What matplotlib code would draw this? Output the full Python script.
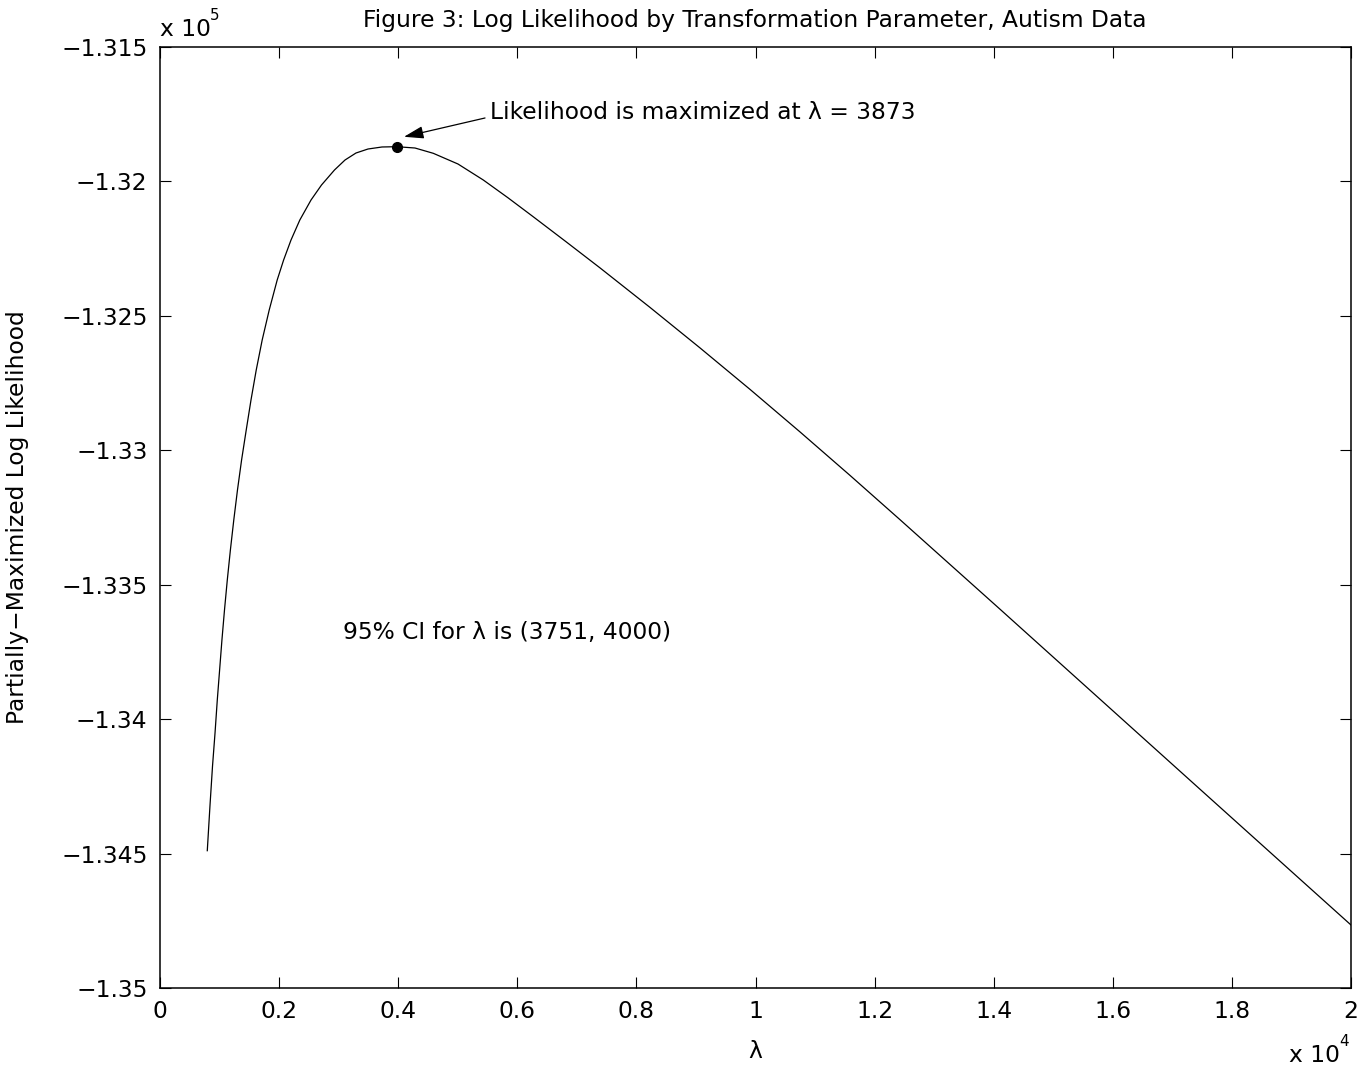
import matplotlib
matplotlib.use("Agg")
import matplotlib.pyplot as plt

plt.rcParams['font.family'] = ['DejaVu Sans']
plt.rcParams['axes.unicode_minus'] = True

# lambda values and partially-maximized log likelihood (units of 1e5)
lam = [794, 840, 882, 924, 962, 1001, 1040, 1083, 1130, 1182, 1239, 1301,
       1370, 1448, 1528, 1616, 1716, 1834, 1968, 2076, 2200, 2348, 2536, 2712,
       2930, 3107, 3291, 3493, 3728, 3975, 4282, 4589, 5004, 5429, 5844, 6269,
       6818, 7389, 8228, 9068, 9908, 10747, 11587, 12427, 14106, 15785, 17464,
       19144, 20000]
loglik = [-1.344893, -1.343193, -1.341743, -1.340515, -1.339288, -1.338172,
          -1.337056, -1.335940, -1.334825, -1.333709, -1.332593, -1.331477,
          -1.330361, -1.329245, -1.328130, -1.327014, -1.325898, -1.324782,
          -1.323666, -1.322922, -1.322179, -1.321435, -1.320691, -1.320133,
          -1.319575, -1.319203, -1.318943, -1.318794, -1.318719, -1.318708,
          -1.318757, -1.318954, -1.319352, -1.319947, -1.320609, -1.321316,
          -1.322242, -1.323216, -1.324685, -1.326192, -1.327735, -1.329316,
          -1.330934, -1.332582, -1.335911, -1.339258, -1.342606, -1.345953,
          -1.347657]
max_lam = 3975
max_val = -1.318708

xticks = [0, 2000, 4000, 6000, 8000, 10000, 12000, 14000, 16000, 18000, 20000]
xticklabels = ['0', '0.2', '0.4', '0.6', '0.8', '1', '1.2', '1.4', '1.6', '1.8', '2']
yticks = [-1.35, -1.345, -1.34, -1.335, -1.33, -1.325, -1.32, -1.315]
yticklabels = ['\u22121.35', '\u22121.345', '\u22121.34', '\u22121.335', '\u22121.33',
               '\u22121.325', '\u22121.32', '\u22121.315']

FS = 16.8
fig = plt.figure(figsize=(13.68, 10.79), dpi=100)
ax = fig.add_axes([160/1368, 1 - 988/1079, (1351-160)/1368, (988-47)/1079])

ax.plot(lam, loglik, color='black', lw=0.9)
ax.plot([max_lam], [max_val], 'o', color='black', ms=7)

ax.set_xlim(0, 20000)
ax.set_ylim(-1.35, -1.315)
ax.set_xticks(xticks)
ax.set_xticklabels(xticklabels, fontsize=FS)
ax.set_yticks(yticks)
ax.set_yticklabels(yticklabels, fontsize=FS)
ax.tick_params(direction='in', length=8, width=0.8, top=True, right=True, pad=9)
for s in ax.spines.values():
    s.set_linewidth(1.1)

ax.annotate('', xy=(4097, -1.31834), xytext=(5458, -1.31764),
            arrowprops=dict(arrowstyle='-|>,head_length=1.2,head_width=0.38',
                            color='black', lw=0.9, shrinkA=0, shrinkB=0))
ax.text(5542, -1.31742, 'Likelihood is maximized at \u03bb = 3873', fontsize=FS,
        ha='left', va='center')
ax.text(3073, -1.33676, '95% CI for \u03bb is (3751, 4000)', fontsize=FS,
        ha='left', va='center')

fig.text(755/1368, 1 - 20/1079, 'Figure 3: Log Likelihood by Transformation Parameter, Autism Data',
         fontsize=FS, ha='center', va='center')
fig.text(18/1368, 1 - 517/1079, 'Partially\u2212Maximized Log Likelihood', fontsize=FS,
         rotation=90, ha='center', va='center')
fig.text(755/1368, 1 - 1052/1079, '\u03bb', fontsize=FS, ha='center', va='center')

# exponent labels
fig.text(160/1368, 1 - 30/1079, 'x 10', fontsize=FS, ha='left', va='center')
fig.text(210/1368, 1 - 16/1079, '5', fontsize=FS*0.65, ha='left', va='center')
fig.text(1289/1368, 1 - 1055/1079, 'x 10', fontsize=FS, ha='left', va='center')
fig.text(1339/1368, 1 - 1041/1079, '4', fontsize=FS*0.65, ha='left', va='center')

fig.savefig('out.png', dpi=100)
